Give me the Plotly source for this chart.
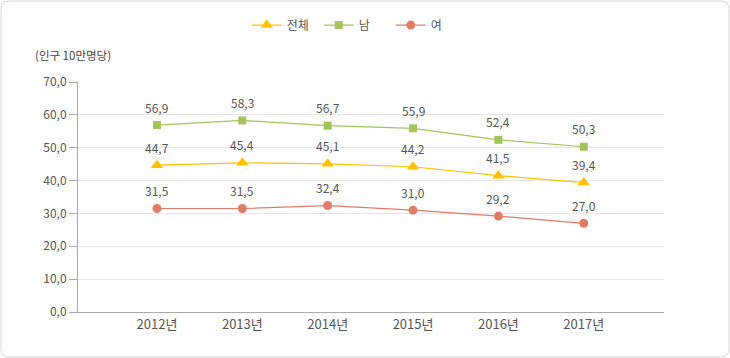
import plotly.graph_objects as go

years = ["2012년", "2013년", "2014년", "2015년", "2016년", "2017년"]
total = [44.7, 45.4, 45.1, 44.2, 41.5, 39.4]
male = [56.9, 58.3, 56.7, 55.9, 52.4, 50.3]
female = [31.5, 31.5, 32.4, 31.0, 29.2, 27.0]
y_ticks = [0, 10, 20, 30, 40, 50, 60, 70]

FONT = "Noto Sans CJK KR"
TXT = "#555555"

series = [
    ("전체", total, "#FFC000", "triangle-up", 11),
    ("남", male, "#A3C35B", "square", 8),
    ("여", female, "#E07B69", "circle", 9),
]

fig = go.Figure()
annotations = []
for name, vals, color, sym, size in series:
    fig.add_trace(go.Scatter(
        x=years, y=vals, name=name, mode="lines+markers",
        line=dict(color=color, width=1.2),
        marker=dict(symbol=sym, size=size, color=color),
        hoverinfo="skip",
    ))
    for xv, yv in zip(years, vals):
        annotations.append(dict(
            x=xv, y=yv, xref="x", yref="y", text=f"{yv:.1f}".replace(".", ","),
            showarrow=False, yshift=18, font=dict(family=FONT, size=12, color=TXT),
        ))

annotations.append(dict(
    x=-0.077, y=1.117, xref="paper", yref="paper", xanchor="left", yanchor="middle",
    text="(인구 10만명당)", showarrow=False, font=dict(family=FONT, size=11.5, color="#444444"),
))

fig.update_layout(
    width=730, height=358,
    margin=dict(l=78, r=66, t=82, b=46),
    paper_bgcolor="white", plot_bgcolor="white",
    separators=", ",
    font=dict(family=FONT, size=12, color=TXT),
    showlegend=True,
    legend=dict(
        orientation="h", xref="container", yref="container",
        x=0.486, y=0.93, xanchor="center", yanchor="middle",
        font=dict(family=FONT, size=12, color=TXT),
        entrywidth=27, entrywidthmode="pixels",
        itemwidth=30, tracegroupgap=0,
    ),
    annotations=annotations,
    shapes=[dict(
        type="path", xref="paper", yref="paper",
        xsizemode="pixel", ysizemode="pixel", xanchor=0, yanchor=0,
        path="M -69,311 L 643,311 Q 651,311 651,303 L 651,-37 Q 651,-45 643,-45 "
             "L -69,-45 Q -77,-45 -77,-37 L -77,303 Q -77,311 -69,311 Z",
        line=dict(color="#D6D6D6", width=1), layer="below",
    )],
)

fig.update_xaxes(
    type="category", range=[-0.925, 5.94],
    showline=True, linecolor="#AAAAAA", linewidth=1,
    showgrid=False, ticks="", zeroline=False,
    tickfont=dict(family=FONT, size=13, color=TXT),
)
fig.update_yaxes(
    range=[0, 70], tickvals=y_ticks,
    ticktext=[f"{v:.1f}".replace(".", ",") for v in y_ticks],
    showline=True, linecolor="#AAAAAA", linewidth=1,
    ticks="outside", ticklen=8, tickcolor="#AAAAAA",
    showgrid=True, gridcolor="#E6E6E6", gridwidth=1, zeroline=False,
    tickfont=dict(family=FONT, size=12, color=TXT),
)

fig.write_html(
    "out.html",
    config={"displayModeBar": False},
    post_script="document.body.style.margin='0';document.body.style.overflow='hidden';",
)
